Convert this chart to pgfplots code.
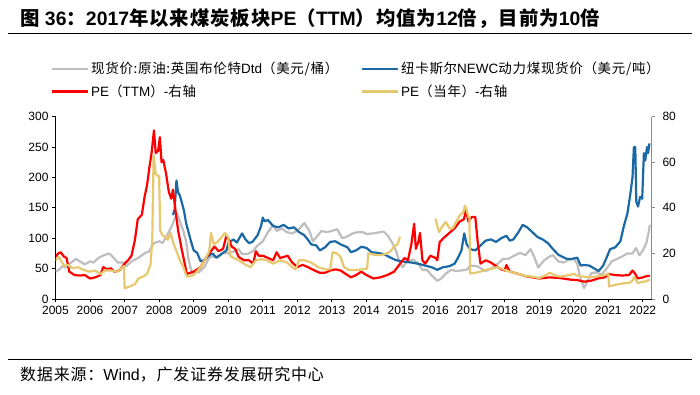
\documentclass[border=0pt]{standalone}
\usepackage{pgfplots}
\pgfplotsset{compat=1.18}
\usepackage{pgfplotstable}
\usepackage{fontspec}
\setmainfont{Liberation Sans}
\newfontfamily\cjk{Noto Sans CJK SC}[LetterSpace=5]
\definecolor{cgray}{RGB}{190,190,190}
\definecolor{cblue}{RGB}{26,105,165}
\definecolor{cred}{RGB}{255,0,0}
\definecolor{cyel}{RGB}{230,200,110}

\pgfplotstableread{
x y
2005.00 45
2005.10 48
2005.20 54
2005.30 52
2005.45 60
2005.60 66
2005.70 62
2005.85 57
2006.00 62
2006.10 60
2006.25 68
2006.40 72
2006.55 75
2006.65 70
2006.80 60
2006.95 60
2007.05 54
2007.20 62
2007.35 66
2007.50 72
2007.60 76
2007.70 78
2007.85 92
2008.00 95
2008.10 92
2008.20 102
2008.35 118
2008.45 132
2008.52 140
2008.60 128
2008.70 112
2008.78 95
2008.85 65
2008.95 42
2009.05 45
2009.15 44
2009.30 52
2009.45 68
2009.55 70
2009.70 68
2009.85 76
2010.00 75
2010.15 78
2010.30 82
2010.40 74
2010.55 74
2010.70 78
2010.85 88
2011.00 95
2011.15 110
2011.30 122
2011.40 112
2011.55 116
2011.70 110
2011.85 108
2012.00 112
2012.20 125
2012.35 112
2012.45 95
2012.60 105
2012.70 112
2012.85 110
2013.00 112
2013.15 115
2013.30 100
2013.45 103
2013.60 108
2013.75 110
2013.90 110
2014.00 107
2014.20 108
2014.40 110
2014.50 111
2014.62 104
2014.75 92
2014.85 80
2014.95 62
2015.05 52
2015.15 60
2015.35 65
2015.50 58
2015.62 48
2015.75 48
2015.90 38
2016.05 30
2016.15 33
2016.30 42
2016.45 48
2016.60 46
2016.75 47
2016.90 48
2017.00 55
2017.20 54
2017.45 46
2017.60 50
2017.80 58
2017.95 66
2018.10 66
2018.30 72
2018.45 76
2018.60 72
2018.75 82
2018.85 70
2018.97 52
2019.15 64
2019.30 70
2019.40 72
2019.55 62
2019.70 60
2019.85 64
2020.00 66
2020.10 58
2020.20 32
2020.30 18
2020.40 30
2020.50 42
2020.65 44
2020.80 40
2020.95 50
2021.10 62
2021.25 66
2021.40 70
2021.55 75
2021.70 75
2021.80 84
2021.90 72
2022.00 80
2022.10 92
2022.17 110
2022.20 122
}\oil

\pgfplotstableread{
x y
2008.40 138
2008.45 148
2008.50 195
2008.55 175
2008.60 170
2008.65 160
2008.72 145
2008.78 125
2008.85 110
2008.92 95
2009.00 80
2009.10 76
2009.20 62
2009.30 64
2009.45 72
2009.55 75
2009.65 68
2009.80 74
2009.95 80
2010.00 92
2010.15 98
2010.25 93
2010.40 108
2010.50 98
2010.60 92
2010.70 94
2010.85 105
2010.95 120
2011.00 134
2011.05 128
2011.15 130
2011.30 120
2011.45 118
2011.60 122
2011.75 116
2011.90 118
2012.05 110
2012.20 105
2012.30 98
2012.40 90
2012.55 88
2012.65 80
2012.80 85
2012.95 94
2013.10 95
2013.25 90
2013.45 85
2013.55 77
2013.70 80
2013.85 86
2014.00 84
2014.15 77
2014.30 76
2014.50 74
2014.70 68
2014.85 64
2015.00 62
2015.15 61
2015.30 60
2015.50 58
2015.70 55
2015.90 52
2016.05 48
2016.20 52
2016.40 54
2016.55 58
2016.65 68
2016.75 80
2016.83 108
2016.90 90
2017.00 82
2017.15 80
2017.30 88
2017.45 96
2017.60 98
2017.75 94
2017.90 100
2018.05 104
2018.15 96
2018.25 98
2018.40 110
2018.52 122
2018.65 118
2018.80 110
2018.95 102
2019.10 98
2019.25 92
2019.40 82
2019.55 73
2019.65 70
2019.80 66
2019.95 66
2020.10 68
2020.20 55
2020.30 56
2020.45 55
2020.60 50
2020.72 46
2020.85 55
2020.95 68
2021.05 82
2021.20 85
2021.35 95
2021.45 120
2021.55 140
2021.63 170
2021.70 200
2021.74 250
2021.78 250
2021.81 160
2021.86 152
2021.92 168
2021.98 165
2022.03 240
2022.07 228
2022.12 250
2022.15 240
2022.19 256
}\coal

\pgfplotstableread{
x y
2005.00 18.5
2005.08 20
2005.15 20.5
2005.25 18.5
2005.32 18
2005.40 12
2005.55 10.5
2005.70 10.3
2005.85 10.5
2006.00 9
2006.15 9.5
2006.30 10.5
2006.38 14
2006.50 13
2006.60 13.5
2006.70 12
2006.85 12.5
2007.00 15.5
2007.10 17
2007.20 19
2007.30 26
2007.38 35
2007.50 37
2007.58 45
2007.65 50
2007.72 58
2007.78 64
2007.85 74
2007.90 64
2007.97 65
2008.02 71
2008.07 60
2008.12 61
2008.20 55
2008.28 47
2008.35 44
2008.40 48
2008.48 38
2008.55 30
2008.65 22
2008.72 17
2008.80 11
2008.90 11.5
2009.00 12
2009.20 14
2009.35 18
2009.50 21
2009.60 23
2009.72 21
2009.85 22
2009.95 28
2010.02 26
2010.10 23
2010.20 22
2010.30 18.5
2010.45 17
2010.60 17
2010.72 15.5
2010.80 21
2010.88 19
2011.00 19
2011.15 18
2011.30 17
2011.40 20.5
2011.50 18
2011.62 18.5
2011.72 19
2011.85 16
2012.00 14
2012.15 15
2012.30 14
2012.50 12.5
2012.65 11.5
2012.80 11.5
2012.95 12.5
2013.10 13
2013.25 12.5
2013.40 11
2013.55 9.5
2013.70 10.5
2013.85 12
2014.00 10.5
2014.20 9
2014.40 9.5
2014.60 10.5
2014.80 12
2014.95 15
2015.10 18
2015.20 17
2015.30 24
2015.38 33
2015.43 22
2015.50 25
2015.55 29
2015.62 17
2015.70 15.5
2015.85 19
2016.00 18
2016.05 17
2016.12 25
2016.25 27
2016.40 29
2016.55 31
2016.70 34
2016.82 35
2016.88 39
2016.95 34
2017.05 36
2017.15 36
2017.22 25
2017.30 15.5
2017.45 17
2017.60 16
2017.75 14.5
2017.90 13
2018.00 12.5
2018.05 14.9
2018.15 12
2018.40 11
2018.60 10
2018.80 9.5
2019.00 9
2019.30 9.5
2019.60 9.2
2019.90 8.5
2020.10 8.3
2020.30 7.6
2020.50 8
2020.70 9
2020.90 9.5
2021.00 11
2021.20 10.5
2021.40 10.3
2021.60 10.5
2021.70 12.5
2021.78 11
2021.85 9
2022.00 9.5
2022.10 10
2022.20 10.2
}\pettm

\pgfplotstableread{
x y
2005.00 17
2005.10 18.5
2005.25 14.5
2005.35 15
2005.50 13.5
2005.65 14
2005.80 12.8
2006.00 12
2006.15 12.5
2006.30 11
2006.45 12.5
2006.60 12.5
2006.80 12
2006.98 14.5
2007.00 4.7
2007.15 5.5
2007.30 6.5
2007.40 9
2007.55 10
2007.65 11
2007.75 15
2007.80 26
2007.84 63
2007.90 55
2007.95 54
2008.00 54
2008.03 30
2008.10 28
2008.20 27
2008.25 26
2008.33 29
2008.40 25
2008.50 21
2008.60 17
2008.70 14
2008.80 9.8
2008.90 10
2009.00 10.5
2009.20 14
2009.35 18
2009.45 21
2009.50 29
2009.58 24
2009.68 25
2009.80 27
2009.90 29
2010.00 27
2010.05 19
2010.15 18
2010.30 17
2010.50 15
2010.65 14
2010.80 17
2010.95 17.5
2011.10 17
2011.30 15.5
2011.50 17
2011.70 16
2011.85 14
2011.95 13
2012.05 17
2012.20 17
2012.40 16
2012.60 14
2012.80 13
2012.95 13
2013.02 20.5
2013.15 20
2013.25 18.5
2013.35 14
2013.50 12.7
2013.70 12.7
2013.90 13
2014.02 13.4
2014.05 20
2014.20 19.5
2014.40 19.2
2014.60 20
2014.70 21
2014.80 23
2014.90 24
2014.97 27.3
2015.50 nan
2016.00 35.3
2016.05 32
2016.10 29.4
2016.20 32
2016.30 33.8
2016.40 31
2016.50 31
2016.60 34
2016.70 36.7
2016.80 38
2016.85 41
2016.90 39
2016.95 36
2016.98 36
2017.00 11.2
2017.15 11.5
2017.30 12
2017.50 13
2017.65 13.4
2017.80 14
2018.00 12.7
2018.20 11.8
2018.40 11
2018.60 10
2018.80 9.8
2019.00 9.2
2019.20 10.5
2019.30 11.5
2019.45 10.5
2019.60 9.8
2019.80 10.3
2020.00 11
2020.15 10
2020.30 9.8
2020.50 9.5
2020.70 10
2020.90 10.5
2021.00 11.2
2021.02 5.5
2021.20 6.2
2021.40 6.8
2021.60 7.1
2021.70 8
2021.75 9.8
2021.85 7
2022.00 7.5
2022.10 7.8
2022.20 8.5
}\pecur

\pgfplotsset{
  base/.style={
    at={(55.5pt,96pt)}, anchor=south west,
    scale only axis, width=596pt, height=182.3pt,
    xmin=2005, xmax=2022.25,
    tick align=outside, major tick length=3.5pt,
    tick label style={font=\fontsize{12}{12}\selectfont, text=black},
    /pgf/number format/assume math mode=true,
    /pgf/number format/set thousands separator={},
  },
}

\begin{document}
\begin{tikzpicture}[x=1pt,y=1pt]
\path[use as bounding box] (0,0) rectangle (700,395);

\node[anchor=west, inner sep=0] at (20,376) {\fontsize{19.4}{19.4}\selectfont\bfseries {\cjk 图}~36{\cjk ：}2017{\cjk 年以来煤炭板块}PE{\cjk （}TTM{\cjk ）均值为}12{\cjk 倍，目前为}10{\cjk 倍}};
\draw[line width=1pt] (8,361) -- (692,361);

% legend
\draw[cgray, line width=2.4pt] (52,326) -- (88,326);
\node[anchor=west, inner sep=0] at (91,326) {\fontsize{13.5}{13.5}\selectfont{\cjk 现货价:原油:英国布伦特}Dtd{\cjk （美元/桶）}};
\draw[cblue, line width=2.4pt] (362,326) -- (398,326);
\node[anchor=west, inner sep=0] at (401,326) {\fontsize{13.5}{13.5}\selectfont{\cjk 纽卡斯尔}NEWC{\cjk 动力煤现货价（美元/吨）}};
\draw[cred, line width=2.4pt] (52,303.5) -- (88,303.5);
\node[anchor=west, inner sep=0] at (91,303.5) {\fontsize{13.5}{13.5}\selectfont PE{\cjk （}TTM{\cjk ）}-{\cjk 右轴}};
\draw[cyel, line width=2.4pt] (362,303.5) -- (398,303.5);
\node[anchor=west, inner sep=0] at (401,303.5) {\fontsize{13.5}{13.5}\selectfont PE{\cjk （当年）}-{\cjk 右轴}};

\begin{axis}[base,
  ymin=0, ymax=300, ytick={0,50,...,300},
  xtick={2005,...,2022},
  axis x line*=bottom, axis y line*=left,
  axis line style={-, black, line width=0.8pt},
  tick style={black, line width=0.8pt},
]
\addplot[cgray, line width=2.2pt, line join=round] table {\oil};
\addplot[cblue, line width=2.2pt, line join=round] table {\coal};
\end{axis}

\begin{axis}[base,
  ymin=0, ymax=80, ytick={0,20,...,80},
  axis y line*=right, axis x line=none,
  axis line style={-, black!45, line width=0.8pt},
  y tick style={black!45, line width=0.8pt},
  yticklabel style={xshift=4pt},
  unbounded coords=jump,
]
\addplot[cred, line width=2.2pt, line join=round] table {\pettm};
\addplot[cyel, line width=2.2pt, line join=round] table {\pecur};
\end{axis}

\draw[line width=1pt] (8,35) -- (692,35);
\node[anchor=west, inner sep=0] at (20,20) {\fontsize{16}{16}\selectfont{\cjk 数据来源：}Wind{\cjk ，广发证券发展研究中心}};
\end{tikzpicture}
\end{document}
